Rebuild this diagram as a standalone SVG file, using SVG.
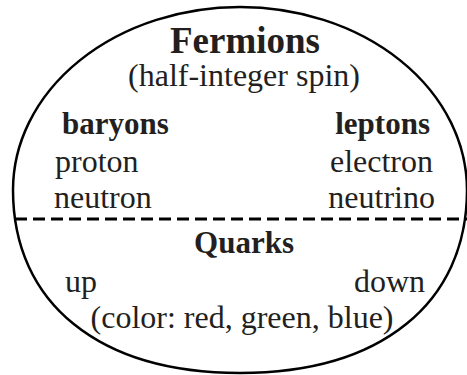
<svg xmlns="http://www.w3.org/2000/svg" width="467" height="375" viewBox="0 0 467 375">
<style>
text{font-family:"Liberation Serif","Times New Roman",serif;fill:#231f20;font-size:32px}
.b{font-weight:bold;font-size:31px}
.c{text-anchor:middle}
.e{text-anchor:end}
.h{stroke:#fff;stroke-width:3;paint-order:stroke}
</style>
<rect width="467" height="375" fill="#fff"/>
<g id="fermions">
<path d="M13,190 A227,183 0 0 1 467,190 C467,303.5 380.7,373 240,373 C99.3,373 13,303.5 13,190 Z" fill="none" stroke="#000" stroke-width="2.5"/>
<text class="b c" x="245" y="53" style="font-size:37px">Fermions</text>
<text class="c" x="244" y="86">(half-integer spin)</text>
</g>
<g id="baryons">
<text class="b" x="62" y="134">baryons</text>
<text x="55" y="172">proton</text>
<text x="54" y="208">neutron</text>
</g>
<g id="leptons">
<text class="b e" x="430" y="134">leptons</text>
<text class="e" x="433" y="172">electron</text>
<text class="e" x="435" y="208">neutrino</text>
</g>
<g id="connectors">
<line x1="15" y1="219" x2="467" y2="219" stroke="#000" stroke-width="3" stroke-dasharray="12 6"/>
</g>
<g id="quarks">
<text class="b c" x="244" y="253">Quarks</text>
<text x="65" y="292">up</text>
<text class="e" x="425" y="292">down</text>
<text class="c h" x="242" y="328">(color: red, green, blue)</text>
</g>
</svg>
